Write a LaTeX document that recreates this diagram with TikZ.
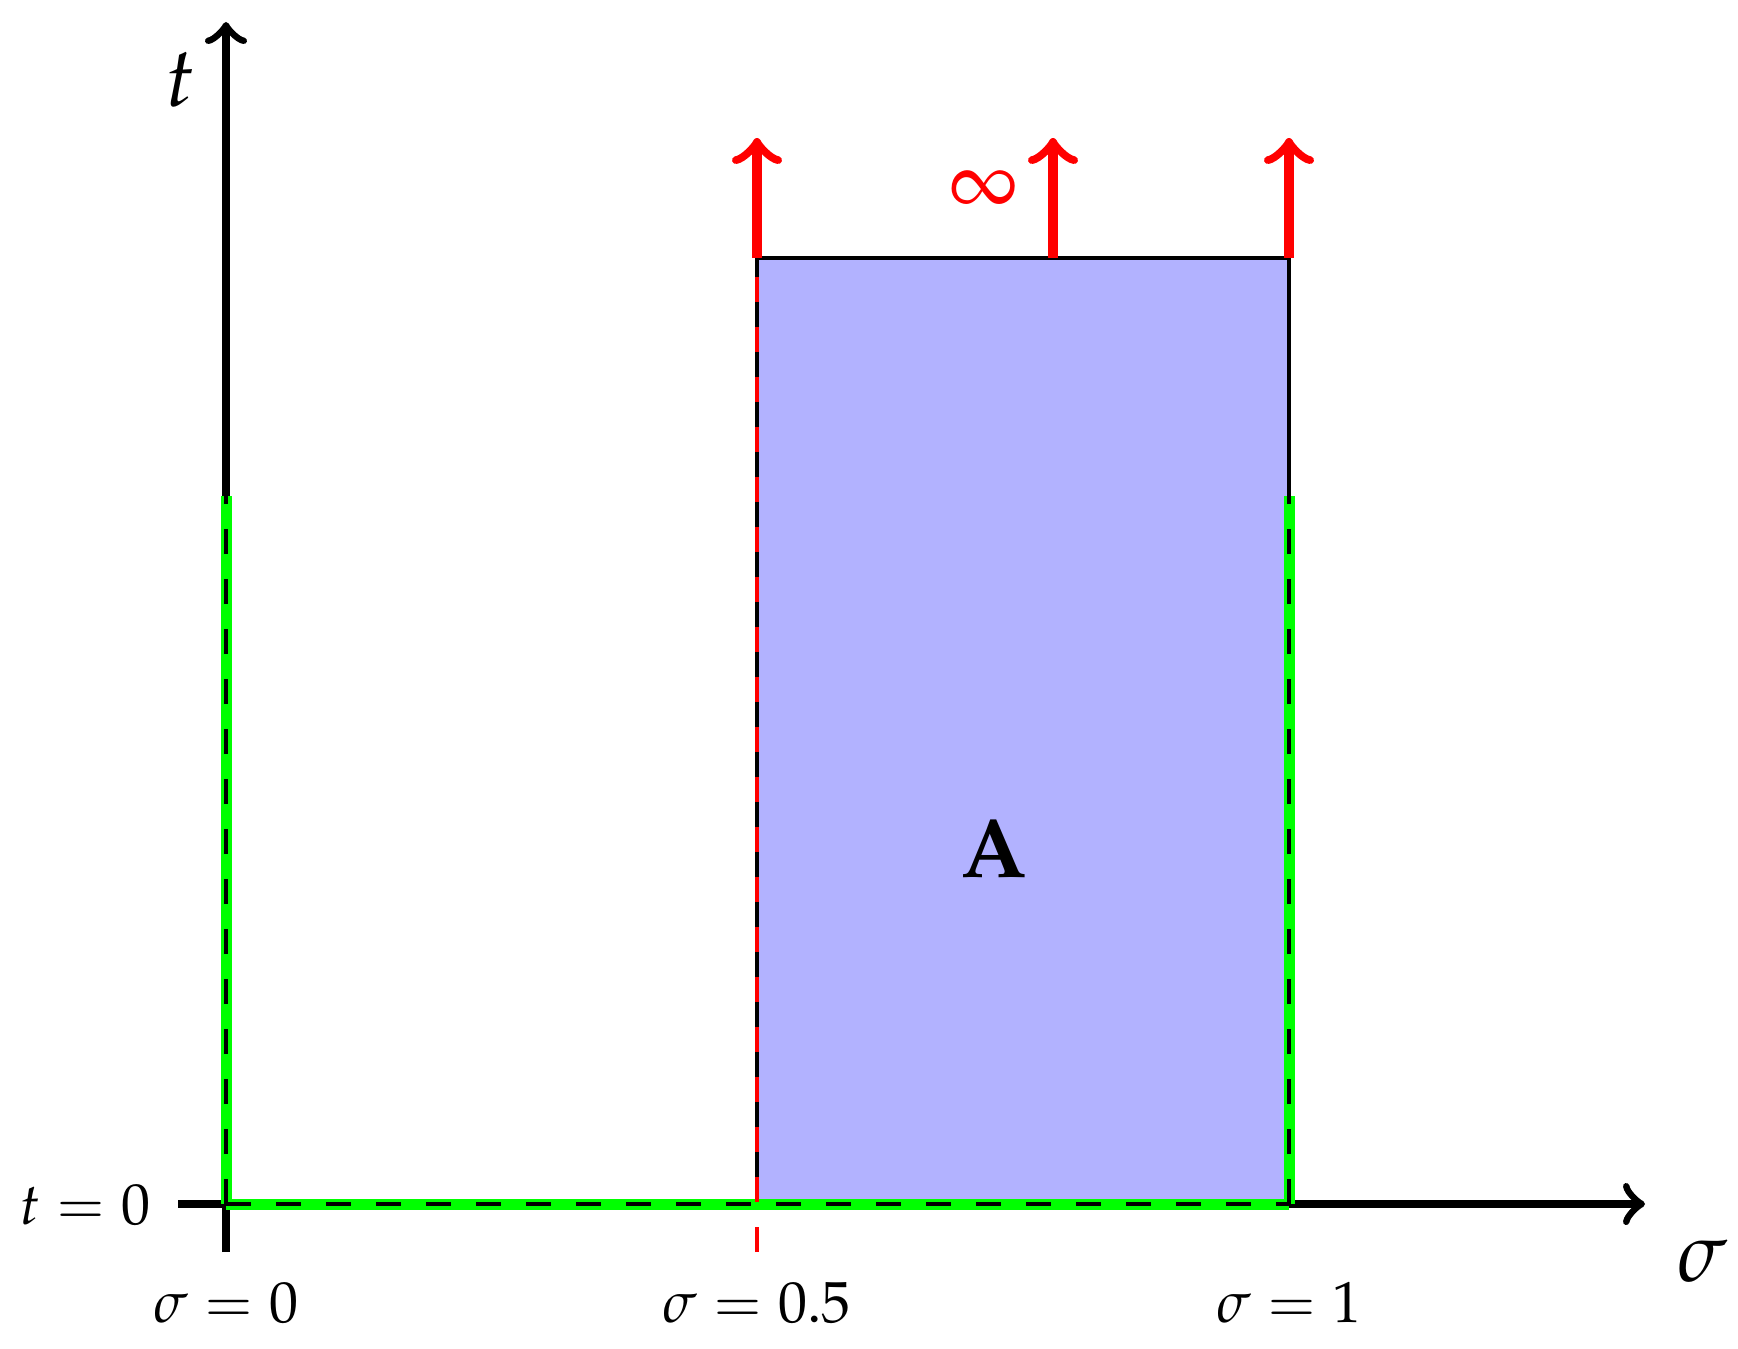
\documentclass[tikz,border=0pt]{standalone}
\usepackage[T1]{fontenc}
\usepackage{mathpazo}
\usetikzlibrary{arrows.meta}
\begin{document}
\begin{tikzpicture}[x=0.5pt,y=-0.5pt,
  axisline/.style={line width=4pt,-{Classical TikZ Rightarrow[length=11pt,width=21pt]}},
  redarrow/.style={red,line width=4.8pt,-{Classical TikZ Rightarrow[length=13pt,width=25pt]}},
  greenline/.style={green,line width=5.5pt},
  blackdash/.style={black,line width=2pt,dash pattern=on 12.5pt off 12.5pt},
  reddash/.style={red,line width=2pt,dash pattern=on 12.5pt off 12.5pt},
  biglab/.style={font=\fontsize{42}{50}\selectfont,inner sep=0pt},
  smalllab/.style={font=\fontsize{29}{35}\selectfont,inner sep=0pt,anchor=base}
]
\useasboundingbox (0,0) rectangle (1738,1348);
% coordinates
\coordinate (O) at (226,1204);
\coordinate (ytop) at (226,22);
\coordinate (ybot) at (226,1252);
\coordinate (xleft) at (178,1204);
\coordinate (xright) at (1645,1204);
\coordinate (BL) at (757,1204);
\coordinate (TL) at (757,258);
\coordinate (TR) at (1289,258);
\coordinate (BR) at (1289,1204);
\coordinate (TM) at (1053,258);
\coordinate (GL) at (226,496);
\coordinate (GR) at (1289,496);
\coordinate (RD) at (757,1252);
\coordinate (AL) at (757,138);
\coordinate (AM) at (1053,138);
\coordinate (AR) at (1289,138);
% axes
\draw[axisline] (xleft) -- (xright);
\draw[axisline] (ybot) -- (ytop);
% region
\fill[blue!30] (BL) rectangle (TR);
\draw[line width=2pt] (BL) -- (TL) -- (TR) -- (BR);
% green boundary
\draw[greenline] (GL) -- (O);
\draw[greenline] (O) -- (BR);
\draw[greenline] (BR) -- (GR);
\draw[blackdash] (O) -- (GL);
\draw[blackdash] (O) -- (BR);
\draw[blackdash] (BR) -- (GR);
% red dashed
\draw[reddash] (RD) -- (TL);
% red arrows
\draw[redarrow] (TL) -- (AL);
\draw[redarrow] (TM) -- (AM);
\draw[redarrow] (TR) -- (AR);
% labels
\node[biglab,anchor=base] (tlab) at (180,107) {$t$};
\node[biglab,anchor=base] (slab) at (1702,1281) {$\sigma$};
\node[font=\fontsize{40}{48}\selectfont,text=red,inner sep=0pt] (inf) at (984,190) {$\infty$};
\node[biglab,anchor=base] (Alab) at (994,877) {\textbf{A}};
\node[smalllab] (s0) at (226,1322) {$\sigma=0$};
\node[smalllab] (s05) at (757,1322) {$\sigma=0.5$};
\node[smalllab] (s1) at (1289,1322) {$\sigma=1$};
\node[smalllab] (t0) at (85,1224) {$t=0$};
\end{tikzpicture}
\end{document}
